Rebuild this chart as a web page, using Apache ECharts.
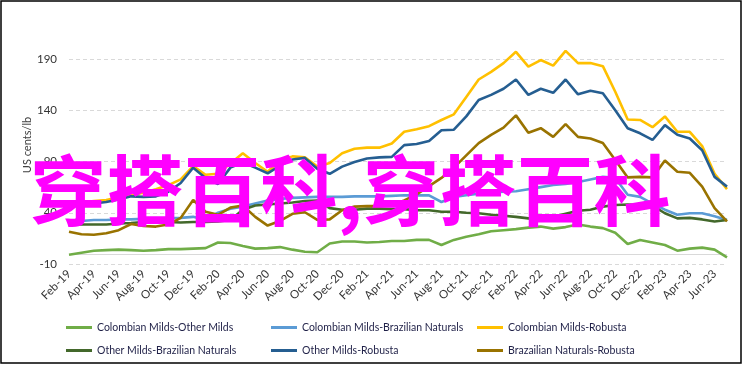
<!DOCTYPE html>
<html>
<head>
<meta charset="utf-8">
<script src="https://cdn.jsdelivr.net/npm/echarts@6/dist/echarts.min.js"></script>
<style>
html,body{margin:0;padding:0;background:#fff;}
#chart{width:744px;height:366px;}
</style>
</head>
<body>
<div id="chart"></div>
<script>
var months = ['Feb-19','Mar-19','Apr-19','May-19','Jun-19','Jul-19','Aug-19','Sep-19','Oct-19','Nov-19','Dec-19','Jan-20',
'Feb-20','Mar-20','Apr-20','May-20','Jun-20','Jul-20','Aug-20','Sep-20','Oct-20','Nov-20','Dec-20','Jan-21',
'Feb-21','Mar-21','Apr-21','May-21','Jun-21','Jul-21','Aug-21','Sep-21','Oct-21','Nov-21','Dec-21','Jan-22',
'Feb-22','Mar-22','Apr-22','May-22','Jun-22','Jul-22','Aug-22','Sep-22','Oct-22','Nov-22','Dec-22','Jan-23',
'Feb-23','Mar-23','Apr-23','May-23','Jun-23','Jul-23'];

var seriesNames = ['Colombian Milds-Other Milds','Colombian Milds-Brazilian Naturals','Colombian Milds-Robusta',
'Other Milds-Brazilian Naturals','Other Milds-Robusta','Brazailian Naturals-Robusta'];

var cmOm = [-1,1,3,3.5,4,3.5,3,3.5,4.5,4.5,5,5.5,11,10.5,7.5,5,5.5,6.5,4,2,1.5,10,12,12,11,11.5,12.5,12.5,13.5,13.5,8.5,13.5,16.5,19,22,23,24,25.5,26.5,24.5,26,28.5,26.5,25,20.5,9.5,13.5,11,8.5,3,5,6,4,-3.5];
var cmBn = [30.5,32,33,33,33.5,33.5,34,34,34.5,35,36,33,40,44,46,49,52,53.5,54.5,55,55.5,55.5,55.5,56,56,56,56.5,57,57,57,50.5,55.5,57,58.5,59.5,60.5,61,63,65,67,68,70,72.5,75,74,57.5,55.5,49,43,38,39.5,39.5,36.5,33];
var cmR = [49,50,51.5,52.5,55,57,59.5,63,67,72.5,85.5,77,78,88,98,88.5,80,91,95,94,85,88.5,98,102.5,103.5,103.5,107.5,119,121.5,124.5,130.5,136,153,170,177.5,186,197,182.5,189,183.5,198,186,186,183,158,131,130.5,123.5,134,119,119,105,78,63];
var omBn = [28.5,28.5,28.5,28.5,29.5,30,31,31,31,30.5,31,31,31.5,33,43,47,48,49,50,51.5,52,44.5,43,43,44,44,43.5,43.5,42.5,42.5,41,41,40,39.5,38,37,36,34.5,34.5,36,39,42,43,46,47.5,48,47.5,47,39.5,34.5,35,33.5,31.5,33];
var omR = [48,49,49,50.5,53,56,55.5,56,60.5,69,84,74,68,84,89,84,78.5,86,92,93.5,83,78,85,89.5,93,94,94.5,106,107,110,120.5,121,134,150,155,161,170,155,161,157,170,155.5,159,156.5,140,122.5,117.5,111,125.5,116,112.5,101,75,65.5];
var bnR = [21.5,19,18.5,20,23,29,27,26.5,28.5,35,52.5,41,38,45,47,36,27.5,32,39,40.5,33,33.5,42.5,46,46.5,46.5,47.5,52,58,66,74,84,96,108,116,123,135,118,122.5,114,126.5,114,112.5,108,91.5,74.5,75,74.5,91,80,79,65.5,44.5,31.5];

var yTicks = {min: -10, max: 190, step: 50};
var yTitle = 'US cents/lb';
var watermark = '穿搭百科,穿搭百科';

var colors = ['#70AD47','#5B9BD5','#FFC000','#43682B','#255E91','#997300'];
var allData = [cmOm, cmBn, cmR, omBn, omR, bnR];

var chart = echarts.init(document.getElementById('chart'), null, {renderer:'canvas'});
var font = 'Lato, "Open Sans", sans-serif';

var series = allData.map(function(d, i){
  var s = {
    name: seriesNames[i], type: 'line', data: d,
    showSymbol: false, symbol: 'none', clip: false,
    lineStyle: {width: 2.6, color: colors[i]},
    itemStyle: {color: colors[i]},
    z: 3 + i
  };
  if (i === 0) {
    s.markLine = {
      silent: true, symbol: ['none','none'], label: {show: false},
      lineStyle: {color: '#d9d9d9', type: 'solid', width: 1.2},
      data: [{yAxis: 0}], z: 1
    };
  }
  return s;
});

function legendCol(left, names){
  return {
    orient: 'vertical', left: left, top: 316,
    data: names, icon: 'rect', itemWidth: 26, itemHeight: 3,
    itemGap: 10,
    textStyle: {fontFamily: font, fontSize: 10.5, color: '#1f2047', lineHeight: 13}
  };
}

chart.setOption({
  animation: false,
  backgroundColor: '#fff',
  color: colors,
  grid: {left: 69, right: 17, top: 59, bottom: 102, containLabel: false},
  legend: [
    legendCol(61, [seriesNames[0], seriesNames[3]]),
    legendCol(266, [seriesNames[1], seriesNames[4]]),
    legendCol(472, [seriesNames[2], seriesNames[5]])
  ],
  xAxis: {
    type: 'category', data: months, boundaryGap: false,
    axisLine: {show: false, onZero: false}, axisTick: {show: false},
    axisLabel: {interval: 1, rotate: 45, fontFamily: font, fontSize: 11.5, color: '#333', margin: 8}
  },
  yAxis: {
    type: 'value', min: yTicks.min, max: yTicks.max, interval: yTicks.step,
    axisLine: {show: false}, axisTick: {show: false},
    axisLabel: {fontFamily: font, fontSize: 11.5, color: '#333', margin: 12},
    splitLine: {lineStyle: {color: '#d9d9d9', type: [4,3], width: 1}}
  },
  series: series,
  graphic: [
    {type: 'rect', shape: {x: 1, y: 1, width: 740, height: 362},
     style: {fill: 'none', stroke: '#000', lineWidth: 1.5}, z: 0, silent: true},
    {type: 'text', x: 27, y: 145, rotation: Math.PI/2,
     style: {text: yTitle, fontFamily: font, fontSize: 11, fill: '#404040', textAlign: 'center', textVerticalAlign: 'middle'}, z: 10},
    {type: 'text', x: 350, y: 191,
     style: {text: watermark, fontFamily: '"Noto Sans CJK SC"', fontWeight: 'bold', fontSize: 77, fill: '#FF00FF', textAlign: 'center', textVerticalAlign: 'middle'}, z: 100}
  ]
});
</script>
</body>
</html>
